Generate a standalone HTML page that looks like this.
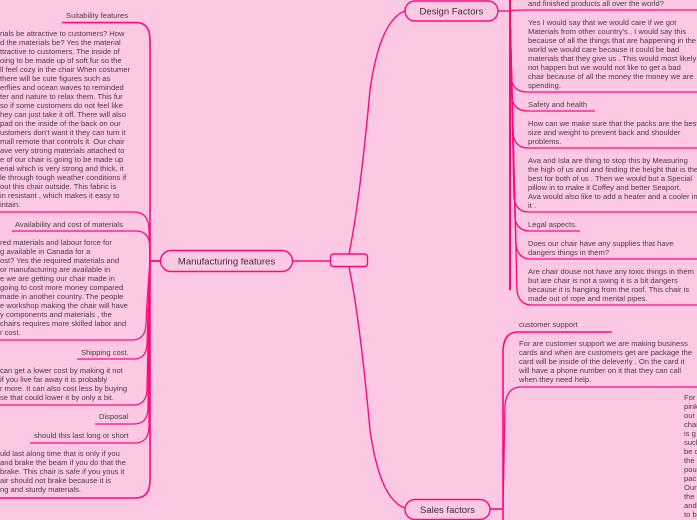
<!DOCTYPE html>
<html><head><meta charset="utf-8"><style>
html,body{margin:0;padding:0;background:#fdc8e4;width:697px;height:520px;overflow:hidden}
svg{display:block}
text{font-family:"Liberation Sans",sans-serif;font-size:7.6px;fill:#4a3b45}
.n{font-size:9.5px;fill:#3a2d36}
</style></head><body>
<svg width="697" height="520" viewBox="0 0 697 520" xmlns="http://www.w3.org/2000/svg">
<g fill="none" stroke="#ff0a78" stroke-width="1.3">
<!-- left branch -->
<path d="M150 261 L150 40 Q150 22.5 136 22.5 L62 22.5" stroke-width="1.6"/>
<path d="M150 261 L149 228 Q148 212 134 212 L0 212"/>
<path d="M150 261 L150 246 Q149 231 136 231 L12 231"/>
<path d="M150 261 L150 480 Q150 498 136 498 L0 498" stroke-width="1.6"/>
<path d="M150 261 Q147 300 146 325 Q145 340 132 340 L0 340"/>
<path d="M150 261 Q148 320 147 345 Q146 359 134 359 L77 359"/>
<path d="M150 261 Q148 340 147 390 Q146 405 134 405 L0 405"/>
<path d="M150 261 Q149 360 148 410 Q147 424 134 424 L95 424"/>
<path d="M150 261 Q149 380 149 428 Q148 443 135 443 L30 443"/>
<path d="M150 261 L160 261" stroke-width="1.8"/>
<path d="M293 261 L330 261" stroke-width="1.4"/>
<!-- center to design/sales -->
<path d="M349 254 Q360 200 370 90 Q380 20 405 11" stroke-width="1.4"/>
<path d="M349 267 Q360 320 370 430 Q380 500 405 508" stroke-width="1.4"/>
<!-- design right -->
<path d="M498 11 L510 11" stroke-width="1.4"/>
<path d="M510 0 L510 290" stroke-width="2"/>
<path d="M510 11 Q512 10 527 10 L697 10"/>
<path d="M510 11 L511 78 Q513 92 527 92 L697 92"/>
<path d="M510 11 L512 98 Q514 111 528 111 L595 111"/>
<path d="M510 11 L513 134 Q515 148 528 148 L697 148"/>
<path d="M510 11 L514 198 Q516 212 529 212 L697 212"/>
<path d="M510 11 L515 218 Q517 231 530 231 L580 231"/>
<path d="M510 11 L516 245 Q518 259 531 259 L697 259"/>
<path d="M510 11 L517 291 Q519 305 532 305 L697 305"/>
<!-- sales -->
<path d="M490 509 L503 509" stroke-width="1.6"/>
<path d="M503 520 L503 350 Q504 332 518 332 L612 332" stroke-width="1.6"/>
<path d="M503 509 L505 405 Q507 387 521 387 L697 387"/>
</g>
<g fill="#fdc8e4" stroke="#ff0a78" stroke-width="1.4">
<rect x="330.5" y="254" width="37" height="12.5" rx="3"/>
<rect x="160.5" y="250.5" width="132" height="21" rx="10.5"/>
<rect x="405" y="1" width="93" height="20" rx="10"/>
<rect x="405" y="499.5" width="85" height="20" rx="10"/>
</g>
<text class="n" x="226.5" y="264.5" text-anchor="middle">Manufacturing features</text>
<text class="n" x="451.5" y="14.5" text-anchor="middle">Design Factors</text>
<text class="n" x="447.5" y="513" text-anchor="middle">Sales factors</text>

<text x="66" y="18">Suitability features</text>
<g>
<text x="0" y="36">rials be attractive to customers? How</text>
<text x="0" y="45">d the materials be? Yes the material</text>
<text x="0" y="54">ttractive to customers. The inside of</text>
<text x="0" y="63">oing to be made up of soft fur so the</text>
<text x="0" y="72">ll feel cozy in the chair When costumer</text>
<text x="0" y="81"> there will be cute figures such as</text>
<text x="0" y="90">erflies and ocean waves to reminded</text>
<text x="0" y="99">ter and nature to relax them. This fur</text>
<text x="0" y="108"> so if some customers do not feel like</text>
<text x="0" y="117">hey can just take it off. There will also</text>
<text x="0" y="126">pad on the inside of the back on our</text>
<text x="0" y="135">ustomers don't want it they can turn it</text>
<text x="0" y="144">mall remote that controls it. Our chair</text>
<text x="0" y="153">ave very strong materials attached to</text>
<text x="0" y="162">e of our chair is going to be made up</text>
<text x="0" y="171">erial which is very strong and thick, it</text>
<text x="0" y="180">le through tough weather conditions if</text>
<text x="0" y="189">out this chair outside.  This fabric is</text>
<text x="0" y="198">in resistant , which makes it easy to</text>
<text x="0" y="207">intain.</text>
</g>
<text x="15" y="227">Availability and cost of materials</text>
<g>
<text x="0" y="245">red materials and labour  force for</text>
<text x="0" y="254">g available in Canada for a</text>
<text x="0" y="263">ost? Yes the required materials and</text>
<text x="0" y="272">or manufacturing are available in</text>
<text x="0" y="281">e we are getting our chair made in</text>
<text x="0" y="290">going to cost more money compared</text>
<text x="0" y="299">made in another country.   The people</text>
<text x="0" y="308">e workshop making the chair will have</text>
<text x="0" y="317">y components and materials , the</text>
<text x="0" y="326">chairs requires more skilled labor and</text>
<text x="0" y="335">r cost.</text>
</g>
<text x="81" y="355">Shipping cost.</text>
<text x="0" y="373"> can get a lower cost by making it not</text>
<text x="0" y="382"> if you live far away it is probably</text>
<text x="0" y="391">r more. It can also cost less by buying</text>
<text x="0" y="400">se that could lower it by only a bit.</text>
<text x="99" y="419">Disposal</text>
<text x="34" y="438">should this last long or short</text>
<text x="0" y="456">uld last along time that is only if you</text>
<text x="0" y="465"> and brake the beam if you do that the</text>
<text x="0" y="474">brake. This chair is safe if you yous it</text>
<text x="0" y="483">air should not brake because it is</text>
<text x="0" y="492">ng and sturdy materials.</text>

<g>
<text x="528" y="6">and finished products all over the world?</text>
<text x="528" y="25">Yes  I would say that we  would care if we got</text>
<text x="528" y="34">Materials from other country's . I would say this</text>
<text x="528" y="43">because of all the things that are happening in the</text>
<text x="528" y="52">world we would care because it could be bad</text>
<text x="528" y="61">materials that they give us .  This would most likely</text>
<text x="528" y="70">not happen but we would not like to get a bad</text>
<text x="528" y="79">chair because of all the money the money we are</text>
<text x="528" y="88">spending.</text>
<text x="528" y="107">Safety and health</text>
<text x="528" y="126">How can we make sure that the packs are the best</text>
<text x="528" y="135">size and weight to prevent back and shoulder</text>
<text x="528" y="144">problems.</text>
<text x="528" y="163">Ava and Isla are thing to stop this by Measuring</text>
<text x="528" y="172">the high of us and and finding the height that is the</text>
<text x="528" y="181">best for both of us . Then we would but a  Special</text>
<text x="528" y="190">pillow  in to make it Coffey and better Seaport.</text>
<text x="528" y="199">Ava would also like to add a heater and a cooler in</text>
<text x="528" y="208">it .</text>
<text x="528" y="227">Legal aspects.</text>
<text x="528" y="246">Does our chair have any supplies that have</text>
<text x="528" y="255">dangers things in them?</text>
<text x="528" y="274">Are chair douse not have any toxic things in them</text>
<text x="528" y="283">but are chair is not a swing it is a bit dangers</text>
<text x="528" y="292">because it is hanging from the roof.  This chair is</text>
<text x="528" y="301">made out of rope and mental pipes.</text>
<text x="519" y="327">customer support</text>
<text x="519" y="346">For are customer support  we are making business</text>
<text x="519" y="355">cards and when are customers get are package the</text>
<text x="519" y="364">card will be inside of the deleverly . On the card it</text>
<text x="519" y="373">will have a phone number on it that they can  call</text>
<text x="519" y="382">when they need help.</text>
<text x="684" y="400">For</text>
<text x="684" y="409">pink</text>
<text x="684" y="418">our</text>
<text x="684" y="427">chai</text>
<text x="684" y="436">is g</text>
<text x="684" y="445">such</text>
<text x="684" y="454">be c</text>
<text x="684" y="463">the</text>
<text x="684" y="472">pou</text>
<text x="684" y="481">pac</text>
<text x="684" y="490">Our</text>
<text x="684" y="499">the</text>
<text x="684" y="508">and</text>
<text x="684" y="517">to b</text>
</g>
</svg>
</body></html>
